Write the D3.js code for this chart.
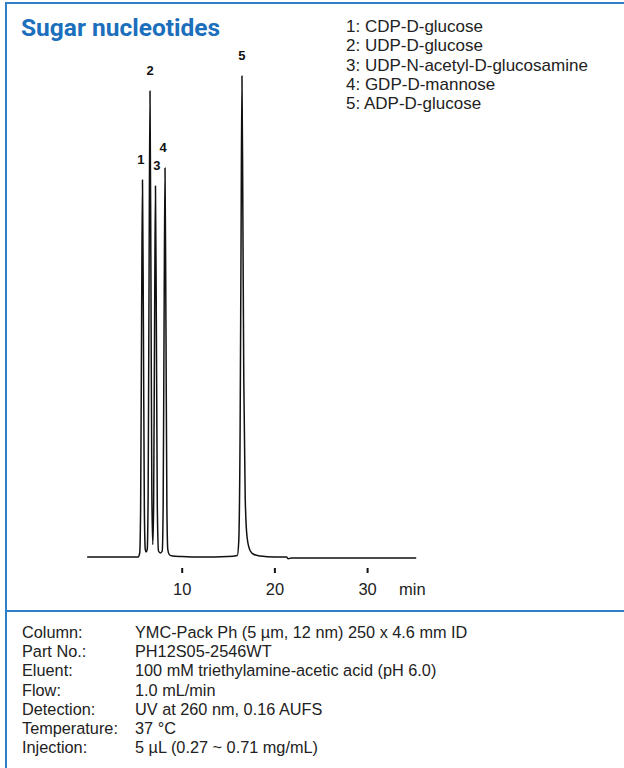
<!DOCTYPE html>
<html>
<head>
<meta charset="utf-8">
<script src="https://cdn.jsdelivr.net/npm/d3@7"></script>
<style>
  html, body { margin: 0; padding: 0; background: #fff; }
  svg { display: block; }
</style>
</head>
<body>
<div id="chart"></div>
<script>
// ---------- data ----------
const title = "Sugar nucleotides";
const peakNumbers = [1, 2, 3, 4, 5];
const compounds = ["CDP-D-glucose", "UDP-D-glucose", "UDP-N-acetyl-D-glucosamine", "GDP-D-mannose", "ADP-D-glucose"];
const peakTimes = [5.77, 6.58, 7.17, 8.2, 16.5];      // min
const peakHeights = [75.4, 93.2, 74.2, 77.8, 96.2];   // relative signal

// chromatogram trace (time in min, relative signal)
const traceTime = [-0.2, 5.3, 5.47, 5.57, 5.67, 5.77, 5.87, 5.97, 6.07, 6.15,
  6.28, 6.38, 6.48, 6.58, 6.68, 6.78, 6.88, 6.97, 7.07, 7.17, 7.27, 7.37, 7.5,
  7.7, 7.9, 8.0, 8.1, 8.2, 8.3, 8.4, 8.5, 8.7, 9, 10, 12, 15, 16.0, 16.15, 16.3,
  16.4, 16.5, 16.6, 16.7, 16.85, 17.05, 17.4, 17.8, 18.5, 20, 21.3, 21.5, 21.8, 25, 35.3];
const traceSignal = [0, 0, 0.8, 10, 46, 75.4, 46, 10, 1.5, 1.0,
  1.5, 12.6, 56.6, 93.2, 56.6, 12.6, 2.5, 10, 45, 74.2, 45, 10, 1.2,
  0.8, 1.2, 10.5, 47, 77.8, 47, 10.5, 1.5, 0.4, 0.2, 0.1, 0, 0.1, 0.3, 3, 25,
  62, 96.2, 68, 35, 12, 4, 1.2, 0.5, 0.2, 0, 0, -0.35, -0.2, -0.2, -0.2];

const xTicks = [10, 20, 30];
const xUnit = "min";

const conditionLabels = ["Column:", "Part No.:", "Eluent:", "Flow:", "Detection:", "Temperature:", "Injection:"];
const conditionValues = [
  "YMC-Pack Ph (5 \u00b5m, 12 nm) 250 x 4.6 mm ID",
  "PH12S05-2546WT",
  "100 mM triethylamine-acetic acid (pH 6.0)",
  "1.0 mL/min",
  "UV at 260 nm, 0.16 AUFS",
  "37 \u00b0C",
  "5 \u00b5L (0.27 ~ 0.71 mg/mL)"
];

// ---------- layout / style ----------
const W = 624, H = 768;
const blue = "#2f7fc6";
const titleBlue = "#1b6fbc";
const textFont = "'Liberation Sans', Arial, Helvetica, sans-serif";
const labelDx = [-1.5, 0, 1.5, -2, 0];

const svg = d3.select("#chart").append("svg")
  .attr("width", W).attr("height", H);

// frame lines
svg.append("line").attr("x1", 6).attr("x2", W).attr("y1", 3).attr("y2", 3)
  .attr("stroke", blue).attr("stroke-width", 2);
svg.append("line").attr("x1", 6).attr("x2", 6).attr("y1", 2).attr("y2", H)
  .attr("stroke", blue).attr("stroke-width", 2);
svg.append("line").attr("x1", 6).attr("x2", W).attr("y1", 611).attr("y2", 611)
  .attr("stroke", blue).attr("stroke-width", 2);

// title
svg.append("text").attr("x", 21).attr("y", 36)
  .attr("font-family", "Roboto, 'Noto Sans', sans-serif")
  .attr("font-weight", 700).attr("font-size", 24.5)
  .attr("fill", titleBlue).text(title);

// scales
const x = d3.scaleLinear().domain([0, 10]).range([89, 181.7]);
const y = d3.scaleLinear().domain([0, 100]).range([557, 57]);

// trace
const pts = traceTime.map((t, i) => [t, traceSignal[i]]);
const line = d3.line().x(d => x(d[0])).y(d => y(d[1])).curve(d3.curveMonotoneX);
svg.append("path").datum(pts)
  .attr("d", line).attr("fill", "none")
  .attr("stroke", "#111").attr("stroke-width", 1.5)
  .attr("stroke-linejoin", "round");

// peak number labels
svg.append("g").selectAll("text").data(peakNumbers).join("text")
  .attr("x", (d, i) => x(peakTimes[i]) + labelDx[i])
  .attr("y", (d, i) => y(peakHeights[i]) - 16)
  .attr("text-anchor", "middle")
  .attr("font-family", textFont).attr("font-weight", 700).attr("font-size", 13)
  .attr("fill", "#111").text(d => d);

// x axis (ticks only)
const axis = svg.append("g").attr("transform", "translate(0,568)")
  .call(d3.axisBottom(x).tickValues(xTicks).tickSize(5).tickPadding(10));
axis.select(".domain").remove();
axis.selectAll(".tick line").attr("stroke", "#111").attr("stroke-width", 2);
axis.selectAll(".tick text").attr("font-family", textFont).attr("font-size", 16.5).attr("fill", "#222");
svg.append("text").attr("x", 399).attr("y", 595)
  .attr("font-family", textFont).attr("font-size", 16.5).attr("fill", "#222").text(xUnit);

// legend
svg.append("g").selectAll("text").data(compounds).join("text")
  .attr("x", 346).attr("y", (d, i) => 32 + i * 19.3)
  .attr("font-family", textFont).attr("font-size", 17).attr("fill", "#222")
  .text((d, i) => peakNumbers[i] + ": " + d);

// conditions
const cond = svg.append("g");
cond.selectAll("text.lab").data(conditionLabels).join("text").attr("class", "lab")
  .attr("x", 22).attr("y", (d, i) => 638 + i * 19.2)
  .attr("font-family", textFont).attr("font-size", 16.3).attr("fill", "#222").text(d => d);
cond.selectAll("text.val").data(conditionValues).join("text").attr("class", "val")
  .attr("x", 135).attr("y", (d, i) => 638 + i * 19.2)
  .attr("font-family", textFont).attr("font-size", 16.3).attr("fill", "#222").text(d => d);
</script>
</body>
</html>
